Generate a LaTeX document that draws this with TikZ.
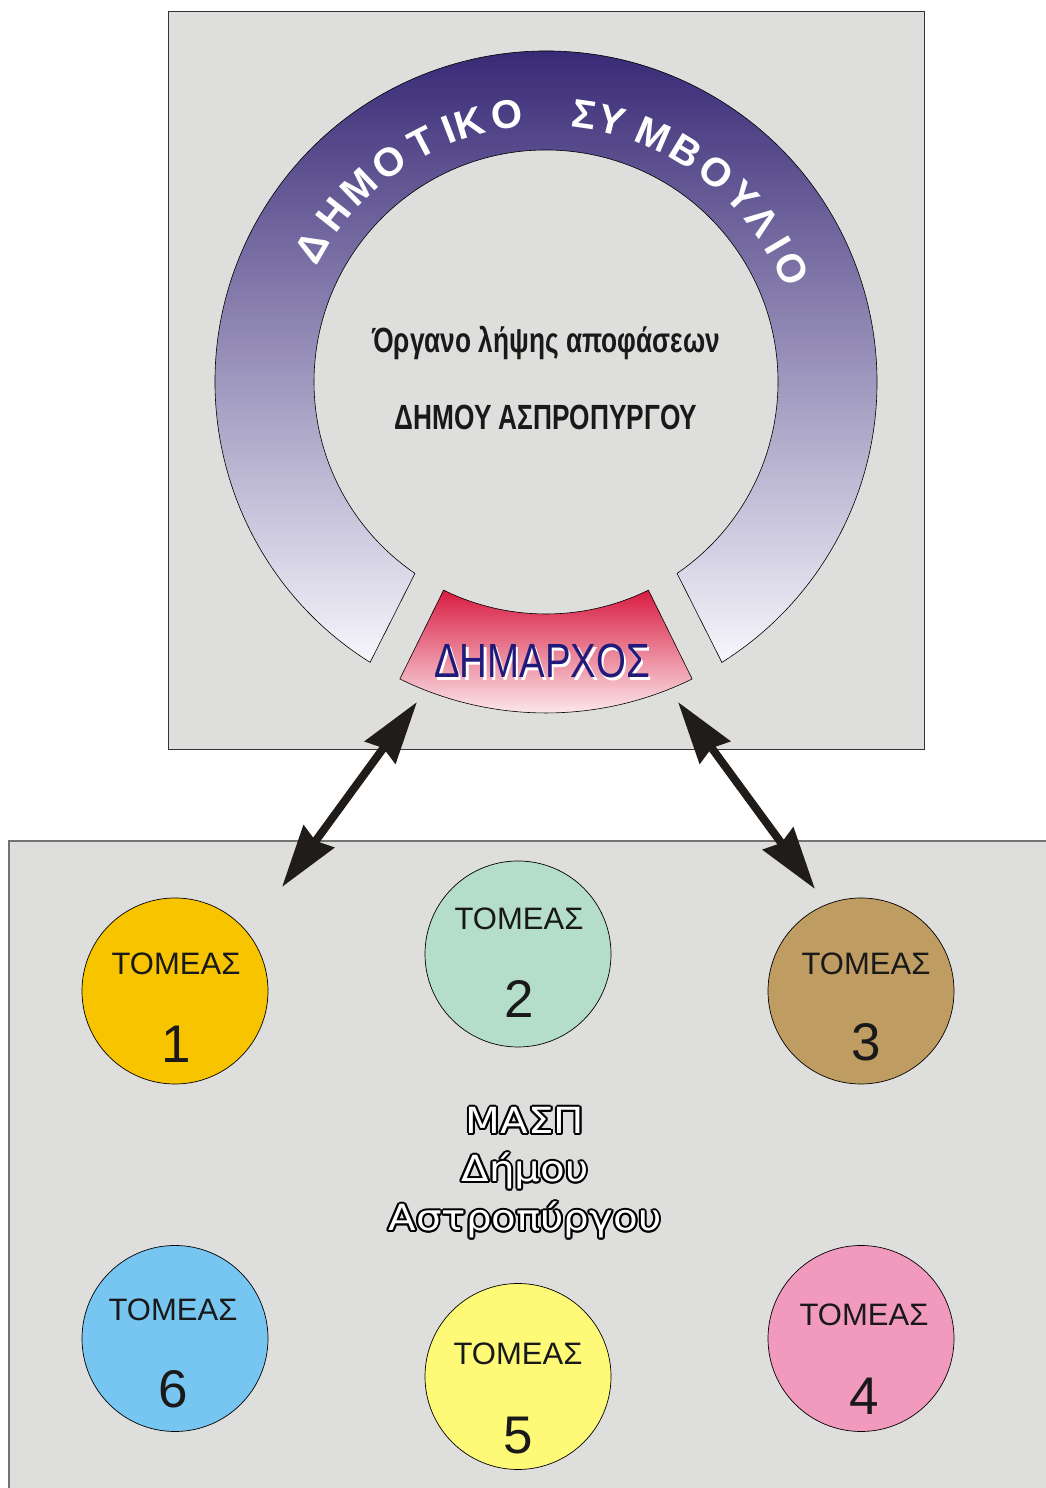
\documentclass[tikz,border=0pt]{standalone}
\usepackage{fontspec}
\setmainfont{Liberation Sans}
\newfontfamily\narrowfont[FakeStretch=0.8]{Liberation Sans}
\newfontfamily\condfont[FakeStretch=0.75]{Liberation Sans}
\newfontfamily\roundfont[FakeStretch=1.12]{DejaVu Sans}
\usepackage{xcolor}
\usetikzlibrary{arrows.meta,positioning,calc}
\definecolor{panel}{RGB}{222,222,220}
\definecolor{ringtop}{RGB}{42,26,108}
\definecolor{ringmid}{RGB}{122,110,168}
\definecolor{ringbot}{RGB}{247,246,252}
\definecolor{mayortop}{RGB}{216,28,66}
\definecolor{mayormid}{RGB}{230,112,126}
\definecolor{mayorbot}{RGB}{255,250,250}
\definecolor{mayorblue}{RGB}{32,26,122}
\definecolor{arrowblack}{RGB}{32,28,26}
\definecolor{tomA}{RGB}{248,196,0}
\definecolor{tomB}{RGB}{180,221,202}
\definecolor{tomC}{RGB}{191,157,98}
\definecolor{tomD}{RGB}{242,154,190}
\definecolor{tomE}{RGB}{255,249,120}
\definecolor{tomF}{RGB}{118,198,241}

\begin{document}
\begin{tikzpicture}[x=1pt,y=1pt,
    every node/.style={inner sep=0pt},
    tomeas/.style={circle,draw=black,line width=0.7pt,minimum size=186pt},
    tomtxt/.style={anchor=base,text=black!90,font=\fontsize{31}{34}\selectfont},
    tomnum/.style={anchor=base,text=black!90,font=\fontsize{53}{56}\selectfont},
    ringletter/.style={text=white,font=\fontsize{40}{44}\selectfont\bfseries},
    boardtxt/.style={anchor=base,text=black!90,font=\condfont\bfseries\fontsize{35}{38}\selectfont},
    masp/.style={anchor=base,font=\roundfont\fontsize{36}{40}\selectfont},
    biarrow/.style={{Stealth[length=62pt,width=37pt,inset=5pt]}-{Stealth[length=62pt,width=37pt,inset=5pt]},line width=8pt,draw=arrowblack,fill=arrowblack}]
    \useasboundingbox (0,0) rectangle (1045,1488);
    \fill[white] (0,0) rectangle (1045,1488);

    % city council
    \draw[fill=panel,draw=black!80,line width=1pt] (168,738) rectangle (924,1476);
    \coordinate (ctr) at (546,1106);
    \shadedraw[top color=ringtop,middle color=ringmid,bottom color=ringbot,draw=black,line width=0.6pt]
        ($(ctr)+(237.9:331)$) arc[start angle=237.9,end angle=-57.9,radius=331]
        -- ($(ctr)+(-55.6:232)$) arc[start angle=-55.6,end angle=235.6,radius=232] -- cycle;
    \foreach \c/\a [count=\i] in {Δ/150,Η/141.7,Μ/133.8,Ο/125.6,Τ/117.4,Ι/111.1,Κ/106.4,Ο/98.3,Σ/81.8,Υ/75.9,Μ/66.6,Β/58.7,Ο/51,Υ/43.3,Λ/36.6,Ι/30.5,Ο/24.8}
        \node[ringletter,rotate=\a-90] (r\i) at ($(ctr)+(\a:270)$) {\c};
    \node[boardtxt] (organ) at (546,1135) {Όργανο λήψης αποφάσεων};
    \node[boardtxt] (dimos) at (546,1058) {ΔΗΜΟΥ ΑΣΠΡΟΠΥΡΓΟΥ};

    % mayor
    \shadedraw[top color=mayortop,middle color=mayormid,bottom color=mayorbot,draw=black,line width=0.6pt]
        ($(ctr)+(243.8:331)$) arc[start angle=243.8,end angle=296.2,radius=331]
        -- ($(ctr)+(296.2:232)$) arc[start angle=296.2,end angle=243.8,radius=232] -- cycle;
    \node[anchor=base,text=white,font=\narrowfont\fontsize{48}{50}\selectfont] at (544.5,807.5) {ΔΗΜΑΡΧΟΣ};
    \node[anchor=base,text=mayorblue,font=\narrowfont\fontsize{48}{50}\selectfont] (mayor) at (542,810) {ΔΗΜΑΡΧΟΣ};

    % sectors
    \draw[fill=panel,draw=black!55,line width=1.5pt] (9,-10) rectangle (1060,647);
    \foreach \n/\x/\y/\col/\dx/\ta/\tb in {1/175/497/tomA/1/16/72,2/518/534/tomB/1/24/64,3/861/497/tomC/5/16/70,
        4/861/149.5/tomD/3/12.5/76.5,5/518/111.5/tomE/0/11.5/77.5,6/175/149.5/tomF/-2/17.5/69.5}{
        \node[tomeas,fill=\col] (s\n) at (\x,\y) {};
        \node[tomtxt] (t\n) at ([xshift=\dx pt,yshift=\ta pt]s\n.center) {ΤΟΜΕΑΣ};
        \node[tomnum] (n\n) at ([xshift=\dx pt,yshift=-\tb pt]s\n.center) {\n};}
    \foreach \name/\txt/\y in {mA/ΜΑΣΠ/354,mB/Δήμου/306,mC/Αστροπύργου/257}{
        \foreach \a in {0,30,...,330}
            \node[masp,text=black] at ($(525,\y)+(\a:2)$) {\txt};
        \node[masp,text=white] (\name) at (525,\y) {\txt};}

    % links
    \coordinate (ml) at (417,786);
    \coordinate (mr) at (678,786);
    \coordinate (sl) at (282,601);
    \coordinate (sr) at (815,599);
    \draw[biarrow] (ml) -- (sl);
    \draw[biarrow] (mr) -- (sr);
\end{tikzpicture}
\end{document}
